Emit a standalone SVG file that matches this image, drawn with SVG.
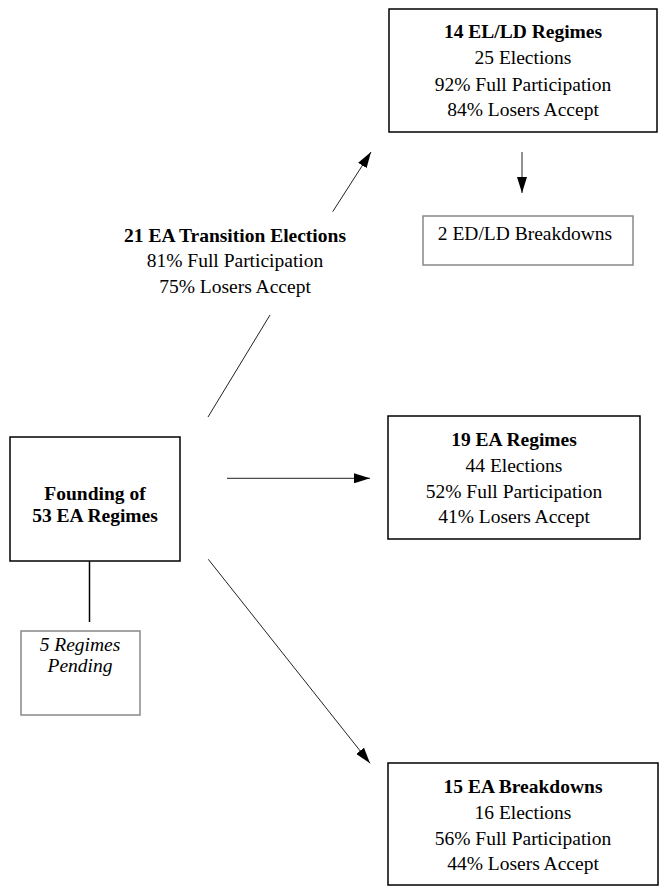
<svg xmlns="http://www.w3.org/2000/svg" width="659" height="888" viewBox="0 0 659 888">
<style>
text{font-family:"Liberation Serif","Times New Roman",serif;font-size:19.5px;fill:#000;text-anchor:middle}
.b{font-weight:bold}
.i{font-style:italic}
.box{fill:#fff;stroke:#000;stroke-width:1.5}
.gbox{fill:#fff;stroke:#888;stroke-width:1.5}
.ln{stroke:#222;stroke-width:1;fill:none}
</style>
<defs>
<marker id="ah" markerUnits="userSpaceOnUse" markerWidth="16" markerHeight="10" refX="16" refY="5" orient="auto">
<path d="M0,0 L16,5 L0,10 z" fill="#000"/>
</marker>
</defs>
<rect width="659" height="888" fill="#fff"/>
<g id="connectors">
<line class="ln" x1="208" y1="417" x2="270" y2="315"/>
<line class="ln" x1="332.7" y1="211.7" x2="371" y2="152" marker-end="url(#ah)"/>
<line class="ln" x1="227" y1="478.3" x2="370" y2="478.3" marker-end="url(#ah)"/>
<line class="ln" x1="208.3" y1="559.3" x2="370" y2="763.3" marker-end="url(#ah)"/>
<line class="ln" x1="522" y1="152" x2="522" y2="193" marker-end="url(#ah)"/>
<line x1="89.5" y1="561" x2="89.5" y2="622" stroke="#000" stroke-width="1.5"/>
</g>
<g id="elld">
<rect class="box" x="389" y="9" width="268" height="123"/>
<text x="523" y="37.7" class="b">14 EL/LD Regimes</text>
<text x="523" y="64.3">25 Elections</text>
<text x="523" y="90.7">92% Full Participation</text>
<text x="523" y="116">84% Losers Accept</text>
</g>
<g id="edld-breakdowns">
<rect class="gbox" x="423" y="216" width="210" height="49"/>
<text x="525" y="239.5">2 ED/LD Breakdowns</text>
</g>
<g id="transition-label">
<text x="235" y="241.7" class="b">21 EA Transition Elections</text>
<text x="235" y="266.7">81% Full Participation</text>
<text x="235" y="292.7">75% Losers Accept</text>
</g>
<g id="founding">
<rect class="box" x="10" y="437" width="170" height="124"/>
<text x="95" y="500" class="b">Founding of</text>
<text x="95" y="522" class="b">53 EA Regimes</text>
</g>
<g id="pending">
<rect class="gbox" x="21" y="631" width="119" height="84"/>
<text x="80" y="650.5" class="i">5 Regimes</text>
<text x="80" y="672" class="i">Pending</text>
</g>
<g id="ea-regimes">
<rect class="box" x="388" y="416" width="252" height="123"/>
<text x="514" y="446" class="b">19 EA Regimes</text>
<text x="514" y="471.7">44 Elections</text>
<text x="514" y="498.3">52% Full Participation</text>
<text x="514" y="523.3">41% Losers Accept</text>
</g>
<g id="ea-breakdowns">
<rect class="box" x="388" y="763" width="270" height="122"/>
<text x="523" y="792.7" class="b">15 EA Breakdowns</text>
<text x="523" y="819.3">16 Elections</text>
<text x="523" y="845">56% Full Participation</text>
<text x="523" y="870">44% Losers Accept</text>
</g>
</svg>
